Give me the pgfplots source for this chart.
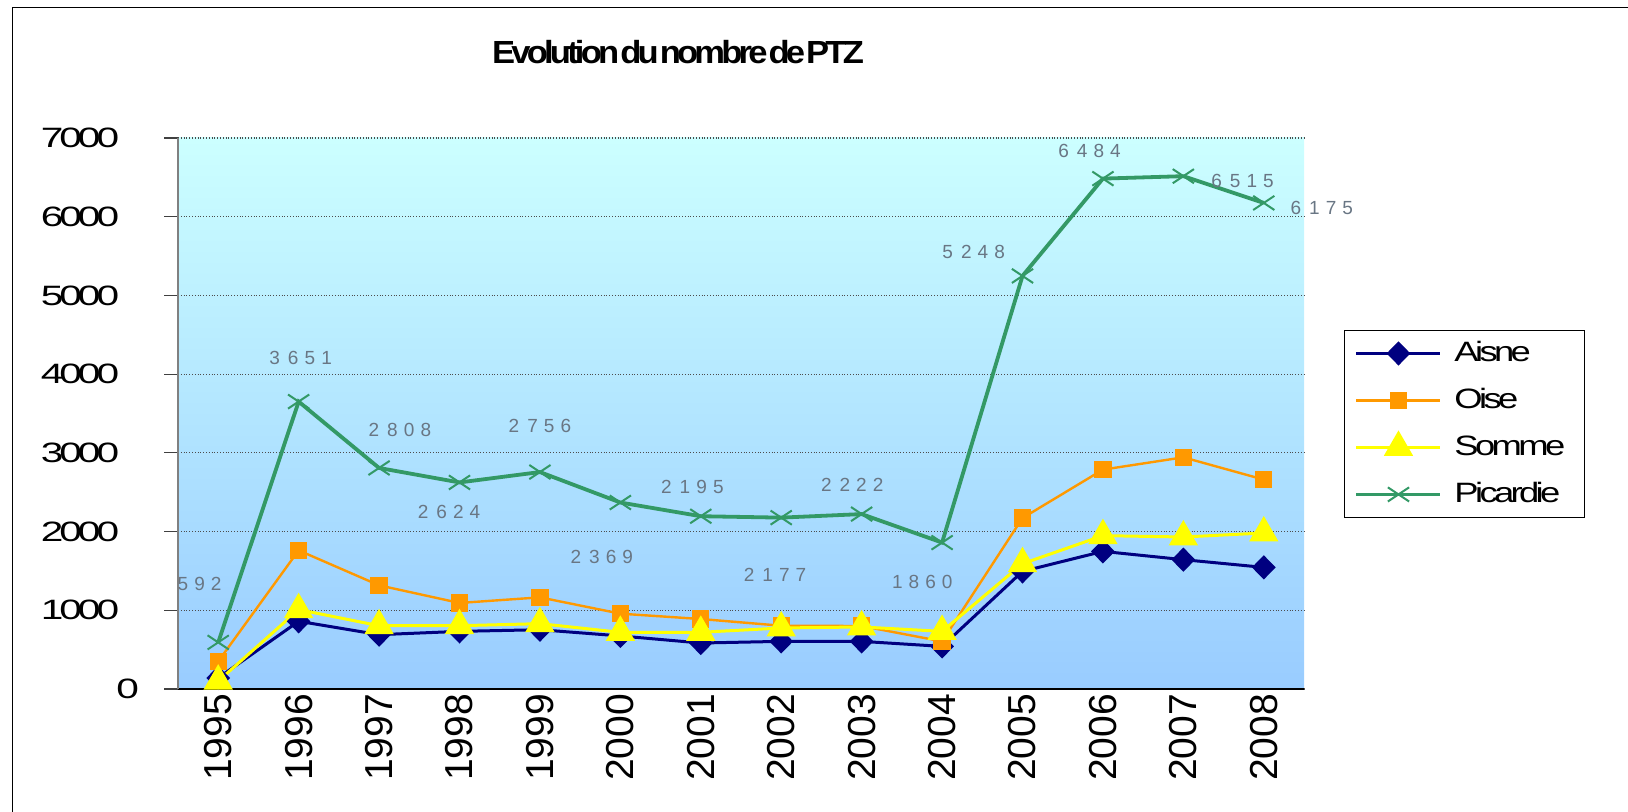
\documentclass[border=0pt]{standalone}
\usepackage{pgfplots}
\pgfplotsset{compat=1.18}
\usepackage{pgfplotstable}
\usepackage{fontspec}
\setmainfont{Liberation Sans}
\newfontfamily\sqz[LetterSpace=-10]{Liberation Sans}
\newfontfamily\ttl[LetterSpace=-11]{Liberation Sans}
\newfontfamily\lbl[LetterSpace=32]{Liberation Sans}
\newcommand\yl[1]{\makebox[49pt][l]{\scalebox{1.45}[1]{#1}}}
\definecolor{cAisne}{RGB}{0,0,128}
\definecolor{cOise}{RGB}{255,153,0}
\definecolor{cSomme}{RGB}{255,255,0}
\definecolor{cPic}{RGB}{51,153,102}
\definecolor{bgtop}{RGB}{204,255,255}
\definecolor{bgbot}{RGB}{153,204,255}
\definecolor{lblgrey}{RGB}{105,118,132}

\pgfplotstableread{
x y
0 140
1 860
2 690
3 732
4 753
5 674
6 584
7 605
8 605
9 541
10 1494
11 1748
12 1643
13 1545
}\tA

\pgfplotstableread{
x y
0 351
1 1761
2 1317
3 1093
4 1164
5 957
6 889
7 804
8 800
9 605
10 2172
11 2787
12 2943
13 2660
}\tO

\pgfplotstableread{
x y
0 100
1 1008
2 804
3 804
4 830
5 720
6 720
7 775
8 788
9 732
10 1592
11 1948
12 1931
13 1982
}\tS

\pgfplotstableread[col sep=comma]{
x,y,dx,dy,lab
0,592,-9.3,29,592
1,3651,1,21.8,{3\hspace{4pt}651}
2,2808,10.4,19.2,{2\hspace{4pt}808}
3,2624,-5.2,-15,{2\hspace{4pt}624}
4,2756,0,22.8,{2\hspace{4pt}756}
5,2369,-9.3,-27,{2\hspace{4pt}369}
6,2195,-4.2,14.5,{2\hspace{4pt}195}
7,2177,-3.1,-28.5,{2\hspace{4pt}177}
8,2222,-4.7,14.5,{2\hspace{4pt}222}
9,1860,-9.9,-19.7,1860
10,5248,-24.4,12,{5\hspace{4pt}248}
11,6484,-6.7,14,{6\hspace{4pt}484}
12,6515,29.6,-2.6,{6\hspace{4pt}515}
13,6175,29,-2.6,{6\hspace{4pt}175}
}\tP

\begin{document}
\begin{tikzpicture}
\useasboundingbox (0,0) rectangle (814pt,406pt);
\draw[black, line width=0.6pt] (6.2pt,0pt) -- (6.2pt,402.4pt) -- (814pt,402.4pt);
\node[anchor=base, font=\fontsize{16}{16}\selectfont\ttl\bfseries] at (339pt,374.4pt) {\scalebox{1.08}[1]{Evolution\kern0.5pt du\kern0.5pt nombre\kern0.5pt de\kern0.5pt PTZ}};
\begin{axis}[
  at={(89pt,61.5pt)}, anchor=south west,
  scale only axis, width=563pt, height=275.5pt,
  xmin=-0.5, xmax=13.5, ymin=0, ymax=7000,
  axis background/.style={top color=bgtop, bottom color=bgbot},
  axis x line*=bottom, axis y line*=left,
  x axis line style={black, line width=0.8pt, -},
  y axis line style={gray, line width=0.8pt, -},
  xtick={0,...,13},
  xticklabels={1995,1996,1997,1998,1999,2000,2001,2002,2003,2004,2005,2006,2007,2008},
  xtick style={draw=none},
  minor xtick={-0.5,0.5,...,13.5},
  minor x tick style={black, line width=0.6pt},
  minor tick length=5pt,
  tick align=outside,
  major tick length=7pt,
  xticklabel shift=-8pt,
  ytick={0,1000,...,7000},
  yticklabels={\scalebox{1.45}[1]{0},\yl{1000},\yl{2000},\yl{3000},\yl{4000},\yl{5000},\yl{6000},\yl{7000}},
  ytick style={black!75, line width=0.6pt},
  yticklabel style={anchor=east, xshift=-9pt, font=\fontsize{14}{14}\selectfont\sqz},
  xticklabel style={rotate=90, anchor=east, font=\fontsize{19.5}{20}\selectfont},
  /pgf/number format/assume math mode=true,
  /pgf/number format/1000 sep={},
  ymajorgrids,
  major grid style={densely dotted, black!70, line width=0.6pt},
  legend style={at={(1.0355,0.6515)}, anchor=north west, draw=black, fill=white, line width=0.6pt,
    font=\fontsize{14}{14}\selectfont\sqz, row sep=6.7pt, inner xsep=5pt, inner ysep=3pt,
    nodes={inner sep=2pt, text height=10.3pt, text depth=2.5pt},
    /tikz/every odd column/.append style={column sep=4pt}},
  legend cell align=left,
  legend image code/.code={\draw[mark repeat=2,mark phase=2] plot coordinates {(0pt,0pt) (21pt,0pt) (42pt,0pt)};},
  clip=false,
]
\addplot[cAisne, line width=1.5pt, mark=diamond*, mark size=5pt, mark options={xscale=1.3, fill=cAisne, solid}] table[x=x,y=y] {\tA};
\addlegendentry{\makebox[58pt][l]{\scalebox{1.3}[1]{Aisne}}}
\addplot[cOise, line width=1.2pt, mark=square*, mark size=3.7pt, mark options={fill=cOise, solid}] table[x=x,y=y] {\tO};
\addlegendentry{\makebox[58pt][l]{\scalebox{1.3}[1]{Oise}}}
\addplot[cSomme, line width=1.5pt, mark=triangle*, mark size=7pt, mark options={fill=cSomme, solid}] table[x=x,y=y] {\tS};
\addlegendentry{\makebox[58pt][l]{\scalebox{1.3}[1]{Somme}}}
\addplot[cPic, line width=1.9pt, mark=x, mark size=5pt, mark options={xscale=1.5, line width=1pt, solid},
  point meta=explicit symbolic,
  visualization depends on={\thisrow{dx} \as \dx},
  visualization depends on={\thisrow{dy} \as \dy},
  nodes near coords,
  nodes near coords style={anchor=center, xshift=\dx pt, yshift=\dy pt, text=lblgrey, font=\fontsize{9.5}{10}\selectfont\lbl},
  ] table[x=x,y=y,meta=lab] {\tP};
\addlegendentry{\makebox[58pt][l]{\scalebox{1.3}[1]{Picardie}}}
\end{axis}
\end{tikzpicture}
\end{document}
